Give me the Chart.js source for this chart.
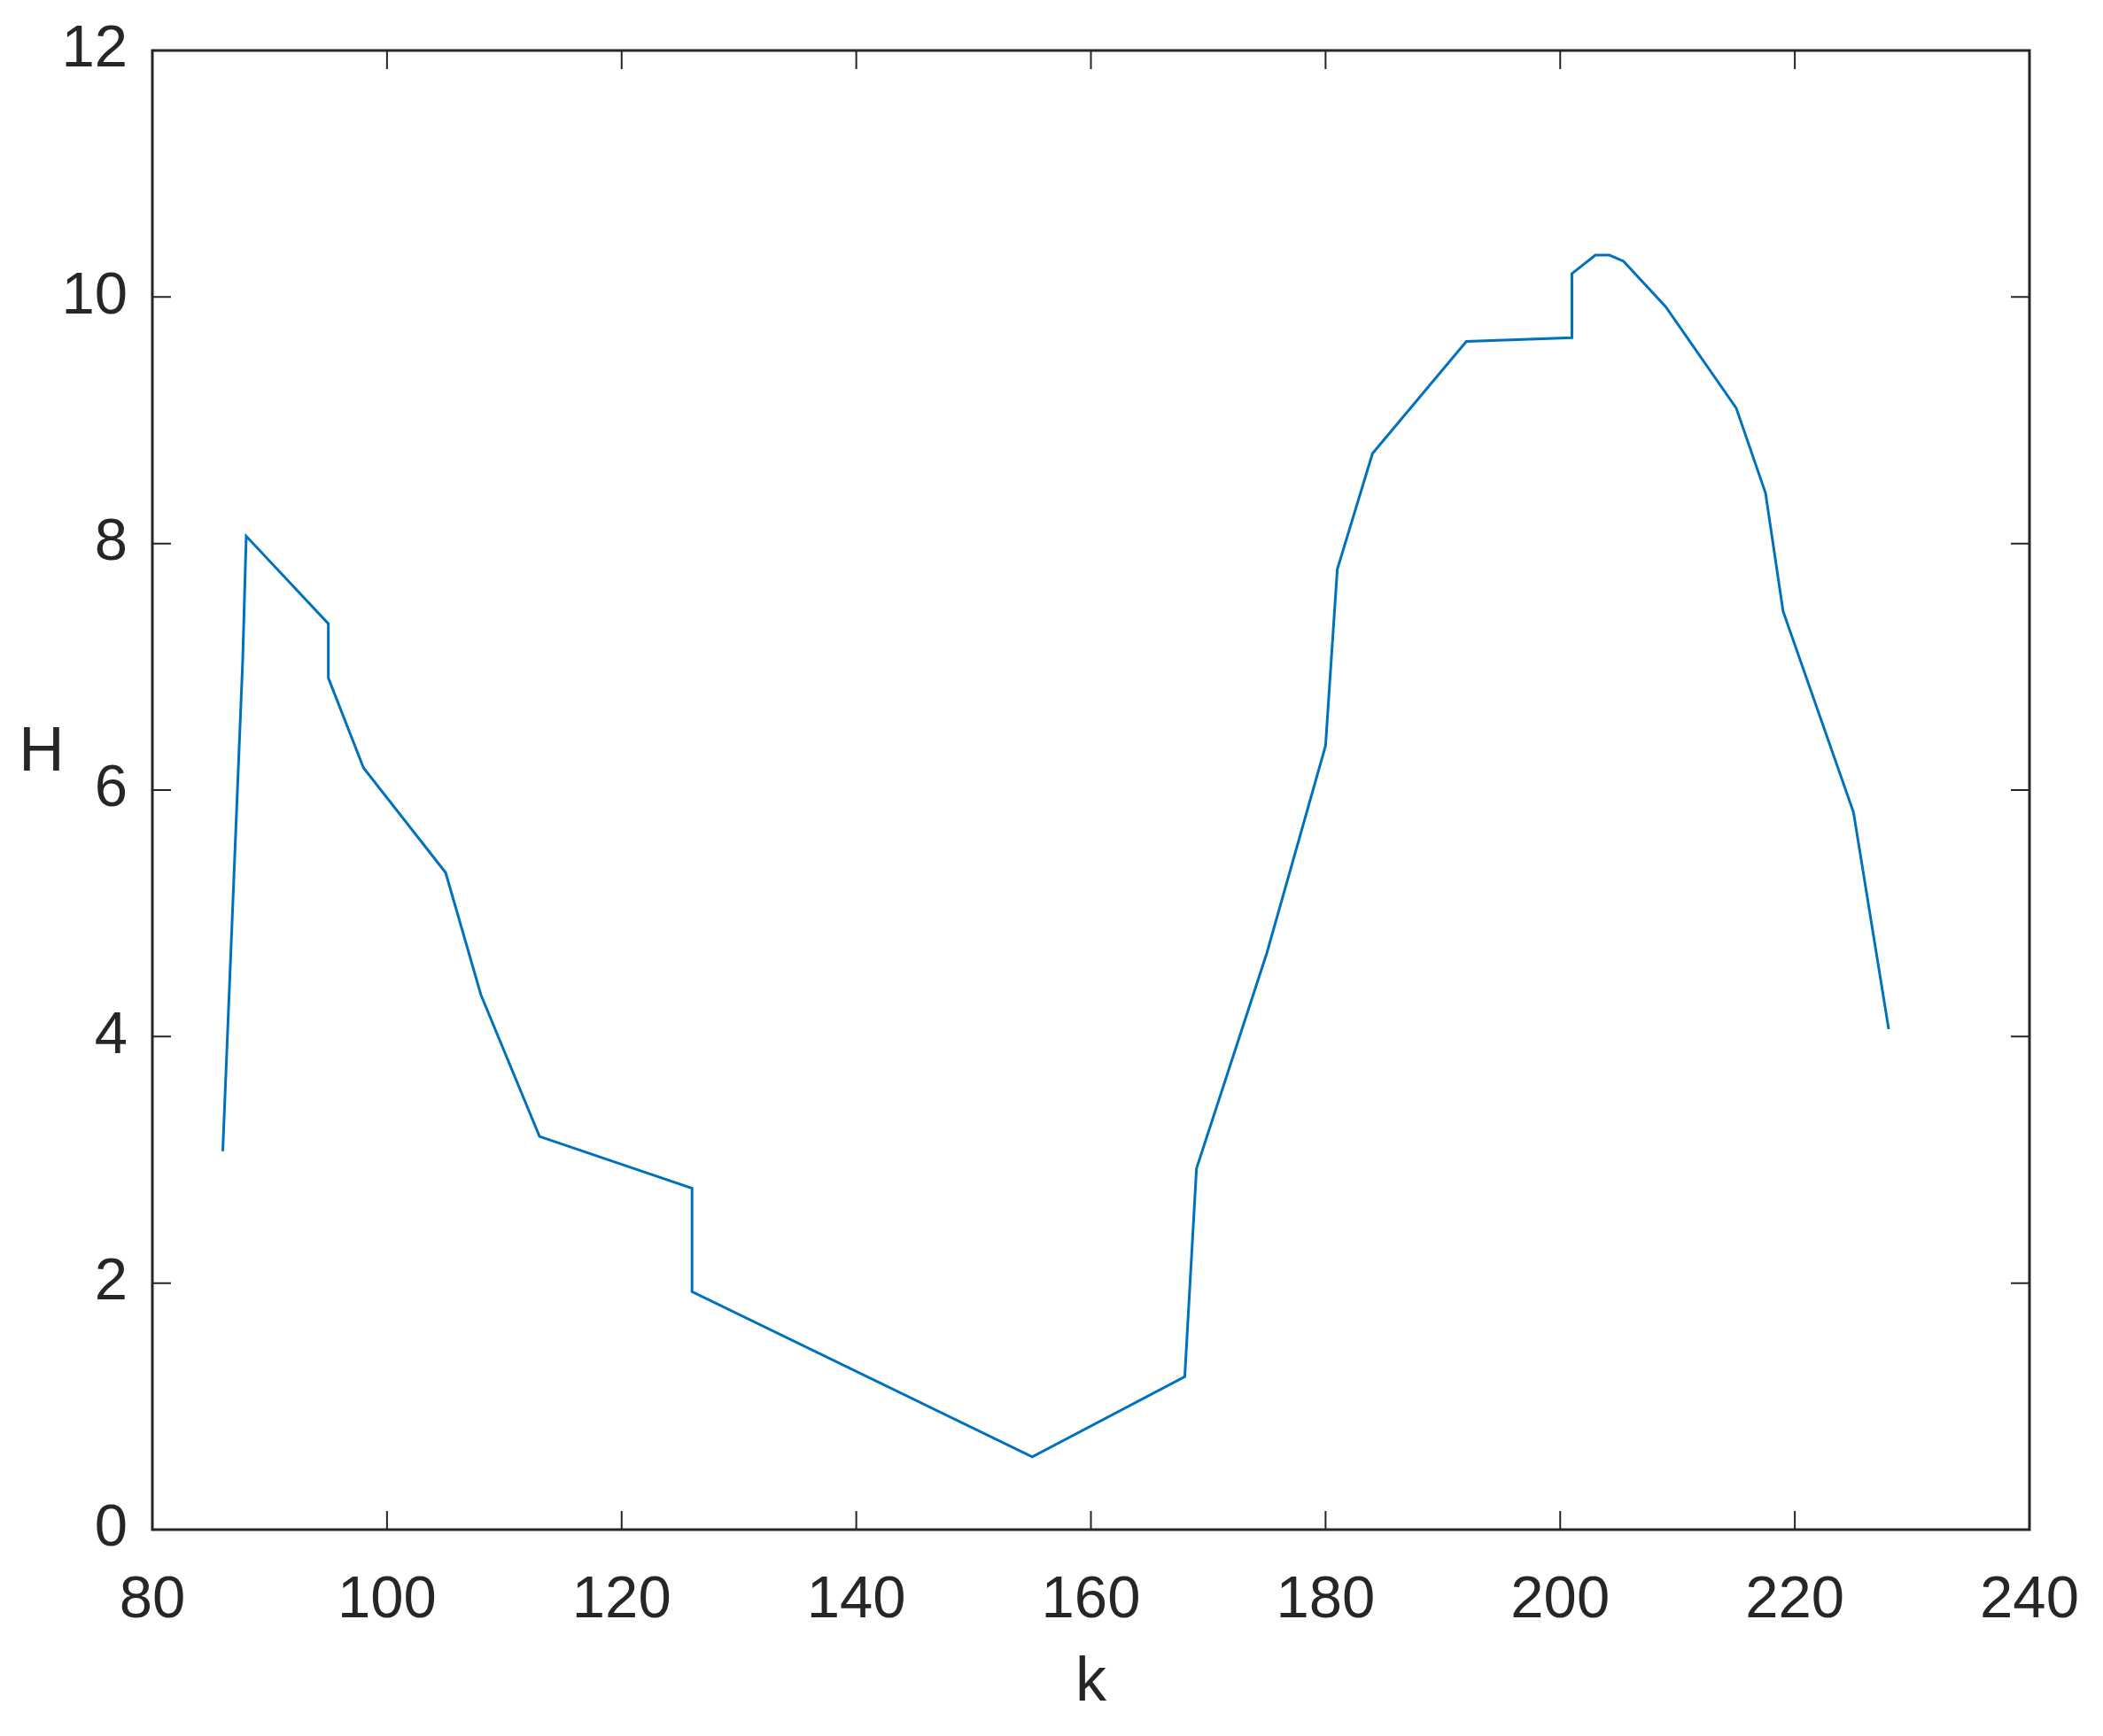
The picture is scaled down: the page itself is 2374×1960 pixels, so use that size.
<!DOCTYPE html>
<html>
<head>
<meta charset="utf-8">
<script src="https://cdn.jsdelivr.net/npm/chart.js@4.4.0/dist/chart.umd.min.js"></script>
<style>
  html, body { margin: 0; padding: 0; background: #fff; }
  #wrap { width: 2374px; height: 1960px; }
</style>
</head>
<body>
<div id="wrap"><canvas id="hChart" width="2374" height="1960"></canvas></div>
<script>
// values
const kValues = [86, 87.7, 88, 95, 95, 98, 105, 108, 113, 126, 126, 155, 168, 169, 175,
  180, 181, 184, 192, 201, 201, 203, 204.2, 205.4, 209, 215, 217.5, 219, 225, 228];
const hValues = [3.07, 7.05, 8.06, 7.35, 6.91, 6.18, 5.33, 4.34, 3.19, 2.77, 1.93, 0.59, 1.24, 2.93, 4.68,
  6.36, 7.79, 8.73, 9.64, 9.67, 10.19, 10.34, 10.34, 10.29, 9.92, 9.10, 8.41, 7.45, 5.82, 4.06];

const xTicks = [80, 100, 120, 140, 160, 180, 200, 220, 240];
const yTicks = [0, 2, 4, 6, 8, 10, 12];

const axisColor = "#262626";
const fontFamily = "'Liberation Sans', Arial, sans-serif";

// box around the plot + inward ticks on all four sides, like matlab
const boxPlugin = {
  id: "box",
  afterDraw(chart) {
    const ctx = chart.ctx;
    const a = chart.chartArea;
    const xs = chart.scales.x;
    const ys = chart.scales.y;
    const len = 21;
    ctx.save();
    ctx.strokeStyle = axisColor;
    ctx.lineWidth = 2;
    xTicks.forEach(v => {
      const px = xs.getPixelForValue(v);
      ctx.beginPath();
      ctx.moveTo(px, a.bottom); ctx.lineTo(px, a.bottom - len);
      ctx.moveTo(px, a.top); ctx.lineTo(px, a.top + len);
      ctx.stroke();
    });
    yTicks.forEach(v => {
      const py = ys.getPixelForValue(v);
      ctx.beginPath();
      ctx.moveTo(a.left, py); ctx.lineTo(a.left + len, py);
      ctx.moveTo(a.right, py); ctx.lineTo(a.right - len, py);
      ctx.stroke();
    });
    ctx.lineWidth = 3;
    ctx.strokeRect(a.left, a.top, a.right - a.left, a.bottom - a.top);

    // y label is horizontal in the reference, sitting a bit above the middle
    ctx.fillStyle = axisColor;
    ctx.font = "71px " + fontFamily;
    ctx.textAlign = "center";
    ctx.textBaseline = "middle";
    ctx.fillText("H", 47, 850);
    ctx.restore();
  }
};

new Chart("hChart", {
  type: "scatter",
  data: {
    datasets: [{
      data: kValues.map((k, i) => ({ x: k, y: hValues[i] })),
      showLine: true,
      borderColor: "#0072BD",
      borderWidth: 3,
      pointRadius: 0,
      tension: 0,
      fill: false,
    }],
  },
  options: {
    responsive: false,
    animation: false,
    layout: { padding: { top: 57, right: 83, left: 0, bottom: 0 } },
    plugins: {
      legend: { display: false },
      tooltip: { enabled: false },
    },
    scales: {
      x: {
        type: "linear",
        min: 80,
        max: 240,
        afterBuildTicks: (scale) => { scale.ticks = xTicks.map(v => ({ value: v })); },
        grid: { display: false, drawTicks: false },
        border: { display: false },
        ticks: {
          color: axisColor,
          padding: 40,
          maxRotation: 0,
          font: { family: fontFamily, size: 67 },
        },
        title: {
          display: true,
          text: "k",
          color: axisColor,
          padding: { top: 6, bottom: 17 },
          font: { family: fontFamily, size: 70 },
        },
        afterFit: (scale) => {
          scale.height = 233;
          scale.paddingLeft = 0;
          scale.paddingRight = 0;
        },
      },
      y: {
        type: "linear",
        min: 0,
        max: 12,
        afterBuildTicks: (scale) => { scale.ticks = yTicks.map(v => ({ value: v })); },
        grid: { display: false, drawTicks: false },
        border: { display: false },
        ticks: {
          color: axisColor,
          padding: 28,
          font: { family: fontFamily, size: 67 },
        },
        afterFit: (scale) => {
          scale.width = 172;
          scale.paddingTop = 0;
          scale.paddingBottom = 0;
        },
      },
    },
  },
  plugins: [boxPlugin],
});
</script>
</body>
</html>
